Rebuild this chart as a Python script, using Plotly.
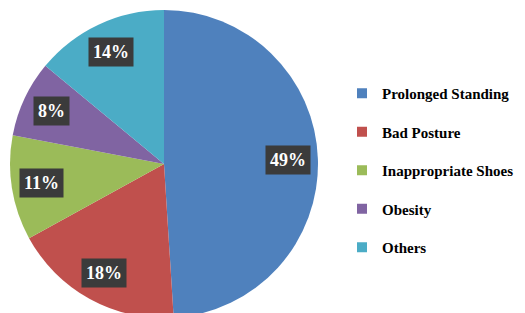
import math
import plotly.graph_objects as go

categories = ["Prolonged Standing", "Bad Posture", "Inappropriate Shoes", "Obesity", "Others"]
values = [49, 18, 11, 8, 14]
colors = ["#4f81bd", "#c0504d", "#9bbb59", "#8064a2", "#4bacc6"]

W, H = 525, 313
ml, mr, mt, mb = 0, 0, 2, 3
dom_x = [2 / W, 310 / W]
dom_y = [0, 1]

fig = go.Figure()
fig.add_trace(go.Pie(
    labels=categories, values=values, sort=False, direction="clockwise",
    rotation=0, marker=dict(colors=colors, line=dict(color="white", width=0)),
    textinfo="none", hoverinfo="label+percent", showlegend=False,
    domain=dict(x=dom_x, y=dom_y),
))

# percentage labels placed at slice mid-angles
total = sum(values)
plot_w = W - ml - mr
plot_h = H - mt - mb
cx = ml + plot_w * (dom_x[0] + dom_x[1]) / 2
cy = mt + plot_h * (1 - (dom_y[0] + dom_y[1]) / 2)
r = min(plot_w * (dom_x[1] - dom_x[0]), plot_h * (dom_y[1] - dom_y[0])) / 2
cum = 0
for v in values:
    mid = (cum + v / 2) / total * 2 * math.pi
    cum += v
    px = cx + 0.805 * r * math.sin(mid)
    py = cy - 0.805 * r * math.cos(mid)
    fig.add_annotation(
        x=(px - ml) / plot_w, y=1 - (py - mt) / plot_h, xref="paper", yref="paper",
        text=f"<b>{round(v / total * 100)}%</b>", showarrow=False,
        font=dict(family="Liberation Serif, Times New Roman, serif", size=18, color="white"),
        bgcolor="#3b3b3b", borderpad=4, xanchor="center", yanchor="middle",
    )

# legend entries
for name, c in zip(categories, colors):
    fig.add_trace(go.Scatter(
        x=[None], y=[None], mode="markers", name=f"<b>{name}</b>", legendgroup=name,
        marker=dict(symbol="square", size=10, color=c), showlegend=True,
    ))

fig.update_layout(
    width=W, height=H, margin=dict(l=ml, r=mr, t=mt, b=mb, autoexpand=False),
    paper_bgcolor="white", plot_bgcolor="white",
    xaxis=dict(visible=False), yaxis=dict(visible=False),
    legend=dict(
        x=334 / W, y=1 - (69 - mt) / plot_h, xanchor="left", yanchor="top",
        font=dict(family="Liberation Serif, Times New Roman, serif", size=15, color="black"),
        tracegroupgap=16, itemwidth=30, bgcolor="rgba(0,0,0,0)",
    ),
)

fig.write_html("out.html")
